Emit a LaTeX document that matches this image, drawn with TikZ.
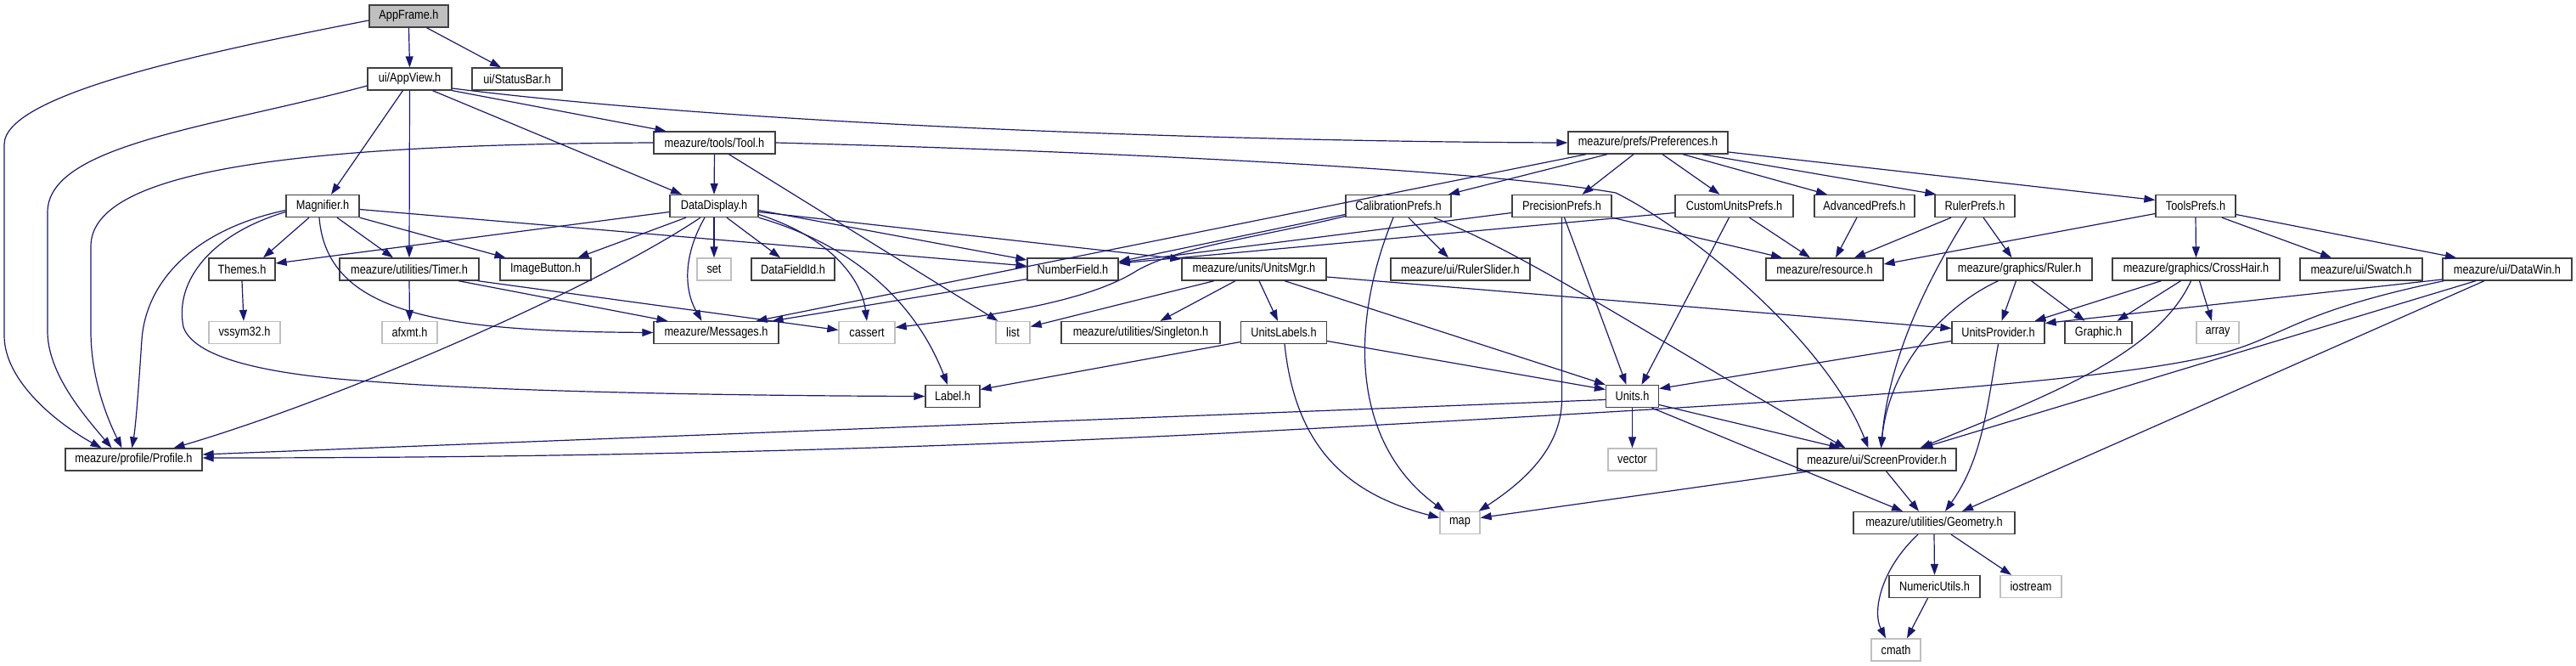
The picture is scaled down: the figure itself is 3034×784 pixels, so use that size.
\documentclass[tikz,border=0pt]{standalone}
\usepackage{fontspec}
\setmainfont{Liberation Sans}[FakeStretch=0.85]
\usetikzlibrary{arrows.meta,calc}
\definecolor{edgec}{HTML}{191970}
\definecolor{greyc}{HTML}{BFBFBF}
\definecolor{boxc}{HTML}{404040}
\begin{document}
\begin{tikzpicture}[x=1pt,y=-1pt,
  box/.style={draw=boxc, line width=1.3pt, minimum height=26pt, inner xsep=1pt, inner ysep=0pt, font=\fontsize{15}{17}\selectfont, fill=white},
  sys/.style={box, draw=greyc},
  root/.style={box, fill=greyc},
  dep/.style={draw=edgec, line width=1.2pt, -{Triangle[length=13pt,width=9pt,fill=edgec]}}]
\useasboundingbox[fill=white] (0,0) rectangle (3034,784);
% row 0-2
\node[root, minimum width=93pt] (appframe) at (481.5,19) {AppFrame.h};
\node[box, minimum width=99pt] (appview) at (482.5,93) {ui/AppView.h};
\node[box, minimum width=106pt] (statusbar) at (609,93) {ui/StatusBar.h};
\node[box, minimum width=143pt] (tool) at (841.5,168) {meazure/tools/Tool.h};
\node[box, minimum width=188pt] (prefs) at (1941,168) {meazure/prefs/Preferences.h};
% row 3
\node[box, minimum width=86pt] (magnifier) at (380,242.5) {Magnifier.h};
\node[box, minimum width=104pt] (datadisplay) at (841,242.5) {DataDisplay.h};
\node[box, minimum width=124pt] (calib) at (1647,242.5) {CalibrationPrefs.h};
\node[box, minimum width=117pt] (precision) at (1839.5,242.5) {PrecisionPrefs.h};
\node[box, minimum width=139pt] (customunits) at (2042.5,242.5) {CustomUnitsPrefs.h};
\node[box, minimum width=118pt] (advanced) at (2196,242.5) {AdvancedPrefs.h};
\node[box, minimum width=94pt] (rulerprefs) at (2326,242.5) {RulerPrefs.h};
\node[box, minimum width=94pt] (toolsprefs) at (2586,242.5) {ToolsPrefs.h};
% row 4
\node[box, minimum width=78pt] (themes) at (285,317) {Themes.h};
\node[box, minimum width=164pt] (timer) at (482,317) {meazure/utilities/Timer.h};
\node[box, minimum width=107pt] (imagebutton) at (642.5,317) {ImageButton.h};
\node[sys, minimum width=40pt] (set) at (841,317) {set};
\node[box, minimum width=98pt] (datafieldid) at (934,317) {DataFieldId.h};
\node[box, minimum width=107pt] (numberfield) at (1263.5,317) {NumberField.h};
\node[box, minimum width=170pt] (unitsmgr) at (1477,317) {meazure/units/UnitsMgr.h};
\node[box, minimum width=164pt] (rulerslider) at (1720,317) {meazure/ui/RulerSlider.h};
\node[box, minimum width=138pt] (resource) at (2149,317) {meazure/resource.h};
\node[box, minimum width=171pt] (ruler) at (2378.5,317) {meazure/graphics/Ruler.h};
\node[box, minimum width=197pt] (crosshair) at (2586.5,317) {meazure/graphics/CrossHair.h};
\node[box, minimum width=144pt] (swatch) at (2781,317) {meazure/ui/Swatch.h};
\node[box, minimum width=152pt] (datawin) at (2953,317) {meazure/ui/DataWin.h};
% row 5
\node[sys, minimum width=84pt] (vssym) at (288,391.5) {vssym32.h};
\node[sys, minimum width=65pt] (afxmt) at (482.5,391.5) {afxmt.h};
\node[box, minimum width=147pt] (messages) at (843.5,391.5) {meazure/Messages.h};
\node[sys, minimum width=66pt] (cassert) at (1021,391.5) {cassert};
\node[sys, minimum width=40pt] (list) at (1193,391.5) {list};
\node[box, minimum width=187pt] (singleton) at (1343.5,391.5) {meazure/utilities/Singleton.h};
\node[box, minimum width=101pt] (unitslabels) at (1512,391.5) {UnitsLabels.h};
\node[box, minimum width=109pt] (unitsprovider) at (2353.5,391.5) {UnitsProvider.h};
\node[box, minimum width=79pt] (graphic) at (2471.5,391.5) {Graphic.h};
\node[sys, minimum width=50pt] (array) at (2612,391.5) {array};
% row 6-10
\node[box, minimum width=64pt] (label) at (1122,466.5) {Label.h};
\node[box, minimum width=62pt] (units) at (1922.5,466.5) {Units.h};
\node[box, minimum width=161pt] (profile) at (157.5,541) {meazure/profile/Profile.h};
\node[sys, minimum width=57pt] (vector) at (1922.5,541) {vector};
\node[box, minimum width=187pt] (screenprovider) at (2210.5,541) {meazure/ui/ScreenProvider.h};
\node[sys, minimum width=47pt] (map) at (1719.5,615.5) {map};
\node[box, minimum width=190pt] (geometry) at (2278,615.5) {meazure/utilities/Geometry.h};
\node[box, minimum width=107pt] (numericutils) at (2278.5,690.5) {NumericUtils.h};
\node[sys, minimum width=72pt] (iostream) at (2392,690.5) {iostream};
\node[sys, minimum width=58pt] (cmath) at (2233,765) {cmath};

% AppFrame
\draw[dep] (appframe.south) -- (appview.north);
\draw[dep] ([xshift=21]appframe.south) -- ([xshift=-19]statusbar.north);
\draw[dep] ([yshift=-5]appframe.west) .. controls (250,60) and (5,110) .. (5,170) -- (5,395) .. controls (5,450) and (70,500) .. ([xshift=-38]profile.north);
% AppView
\draw[dep] ([yshift=-8]appview.west) .. controls (250,150) and (56,170) .. (56,250) -- (56,390) .. controls (56,440) and (100,490) .. ([xshift=-26]profile.north);
\draw[dep] ([xshift=-8]appview.south) -- ([xshift=10]magnifier.north);
\draw[dep] (appview.south) -- (timer.north);
\draw[dep] ([xshift=27]appview.south) -- ([xshift=-38]datadisplay.north);
\draw[dep] (appview.south east) -- ([xshift=-57]tool.north);
\draw[dep] ([yshift=-11]appview.east) .. controls (900,150) and (1500,167) .. (prefs.west);
% Tool
\draw[dep] (tool.south) -- (datadisplay.north);
\draw[dep] ([xshift=17]tool.south) -- ([xshift=3]list.north west);
\draw[dep] (tool.east) .. controls (1300,178) and (1750,200) .. (1903,227) .. controls (1990,270) and (2150,400) .. ([xshift=-10]screenprovider.north);
\draw[dep] (tool.west) .. controls (350,170) and (107,200) .. (107,290) -- (107,390) .. controls (107,450) and (130,500) .. ([xshift=-14]profile.north);
% Magnifier
\draw[dep] ([xshift=-16]magnifier.south) -- ([xshift=25]themes.north);
\draw[dep] ([xshift=17]magnifier.south) -- ([xshift=-19]timer.north);
\draw[dep] (magnifier.south east) -- ([xshift=-47]imagebutton.north);
\draw[dep] ([yshift=-4]magnifier.east) -- ([yshift=4]numberfield.west);
\draw[dep] ([xshift=-4]magnifier.south) .. controls (385,370) and (520,390) .. (messages.west);
\draw[dep] ([yshift=-5]magnifier.west) .. controls (230,270) and (172,330) .. (167,400) .. controls (163,460) and (160,500) .. ([xshift=-2]profile.north);
\draw[dep] ([yshift=-7]magnifier.west) .. controls (250,275) and (205,330) .. (216,385) .. controls (230,425) and (330,442) .. (436,449) .. controls (600,462) and (900,466) .. (label.west);
% DataDisplay
\draw[dep] ([yshift=-7]datadisplay.west) -- ([yshift=7]themes.east);
\draw[dep] ([xshift=-33]datadisplay.south) -- ([xshift=38]imagebutton.north);
\draw[dep] ([xshift=-16]datadisplay.south) .. controls (700,340) and (400,470) .. ([xshift=47]profile.north);
\draw[dep] (datadisplay.south) -- (set.north);
\draw[dep] ([xshift=15]datadisplay.south) -- ([xshift=-15]datafieldid.north);
\draw[dep] ([xshift=-11]datadisplay.south) .. controls (805,300) and (805,340) .. ([xshift=-17]messages.north);
\draw[dep] ([yshift=-5]datadisplay.east) -- ([yshift=11]numberfield.west);
\draw[dep] ([yshift=-7]datadisplay.east) -- ([yshift=12]unitsmgr.west);
\draw[dep] ([yshift=-10]datadisplay.east) .. controls (980,280) and (1015,330) .. (cassert.north);
\draw[dep] (datadisplay.south east) .. controls (1010,290) and (1080,360) .. ([xshift=-6]label.north);
% Timer, Themes
\draw[dep] (timer.south) -- (afxmt.north);
\draw[dep] ([xshift=58]timer.south) -- ([xshift=-57]messages.north);
\draw[dep] ([xshift=-2]timer.south east) -- ([yshift=3]cassert.west);
\draw[dep] (themes.south) -- ([xshift=-1]vssym.north);
% NumberField, UnitsMgr, UnitsLabels
\draw[dep] ([yshift=2]numberfield.south west) -- ([xshift=66]messages.north);
\draw[dep] ([xshift=-47]unitsmgr.south) -- ([yshift=7]list.east);
\draw[dep] ([xshift=-22]unitsmgr.south) -- ([xshift=23]singleton.north);
\draw[dep] ([xshift=6]unitsmgr.south) -- ([xshift=-7]unitslabels.north);
\draw[dep] ([xshift=36]unitsmgr.south) -- (units.north west);
\draw[dep] ([yshift=-9]unitsmgr.east) -- ([yshift=5]unitsprovider.west);
\draw[dep] ([yshift=-11]unitslabels.west) -- ([yshift=8]label.east);
\draw[dep] ([yshift=-10]unitslabels.east) -- ([yshift=8]units.west);
\draw[dep] ([xshift=1]unitslabels.south) .. controls (1525,520) and (1580,580) .. ([yshift=6]map.west);
% Preferences
\draw[dep] ([xshift=-48]prefs.south) -- ([xshift=59]calib.north);
\draw[dep] ([xshift=-17]prefs.south) -- ([xshift=24]precision.north);
\draw[dep] ([xshift=17]prefs.south) -- ([xshift=-17]customunits.north);
\draw[dep] ([xshift=41]prefs.south) -- ([xshift=-44]advanced.north);
\draw[dep] ([xshift=64]prefs.south) -- ([xshift=2]rulerprefs.north west);
\draw[dep] ([yshift=-11]prefs.east) -- ([yshift=7]toolsprefs.west);
\draw[dep] ([xshift=-73]prefs.south) -- ([xshift=47]messages.north);
% CalibrationPrefs
\draw[dep] ([yshift=-10]calib.west) -- ([yshift=9]numberfield.east);
\draw[dep] ([yshift=-12]calib.west) .. controls (1480,280) and (1390,290) .. (1340,318) .. controls (1290,350) and (1200,368) .. ([yshift=6]cassert.east);
\draw[dep] ([xshift=12]calib.south) -- ([xshift=-14]rulerslider.north);
\draw[dep] ([xshift=-6]calib.south) .. controls (1590,380) and (1590,520) .. ([xshift=-18]map.north);
\draw[dep] ([xshift=42]calib.south) .. controls (1800,300) and (1950,400) .. ([xshift=-37]screenprovider.north);
% PrecisionPrefs
\draw[dep] ([yshift=-8]precision.west) -- ([yshift=8]numberfield.east);
\draw[dep] (precision.south east) -- ([xshift=-50]resource.north);
\draw[dep] ([xshift=3]precision.south) -- ([xshift=-7]units.north);
\draw[dep] (precision.south) -- (1839.5,470) .. controls (1839.5,530) and (1790,570) .. ([xshift=22]map.north);
% CustomUnitsPrefs, AdvancedPrefs
\draw[dep] ([yshift=-8]customunits.west) -- ([yshift=7]numberfield.east);
\draw[dep] ([xshift=18]customunits.south) -- ([xshift=-17]resource.north);
\draw[dep] ([xshift=-6]customunits.south) -- ([xshift=11]units.north);
\draw[dep] ([xshift=-9]advanced.south) -- ([xshift=13]resource.north);
% RulerPrefs, ToolsPrefs
\draw[dep] ([xshift=-28]rulerprefs.south) -- ([xshift=35]resource.north);
\draw[dep] ([xshift=10]rulerprefs.south) -- ([xshift=-9]ruler.north);
\draw[dep] ([xshift=-10]rulerprefs.south) .. controls (2270,330) and (2225,420) .. ([xshift=5]screenprovider.north);
\draw[dep] ([yshift=-9]toolsprefs.west) -- ([yshift=6]resource.east);
\draw[dep] (toolsprefs.south) -- (crosshair.north);
\draw[dep] ([xshift=31]toolsprefs.south) -- ([xshift=-35]swatch.north);
\draw[dep] ([yshift=-10]toolsprefs.east) -- ([xshift=-60]datawin.north);
% Ruler, CrossHair, DataWin
\draw[dep] ([xshift=-4]ruler.south) -- ([xshift=4]unitsprovider.north);
\draw[dep] ([xshift=14]ruler.south) -- ([xshift=-16]graphic.north);
\draw[dep] ([xshift=-25]ruler.south) .. controls (2290,360) and (2225,430) .. ([xshift=5]screenprovider.north);
\draw[dep] ([xshift=-41]crosshair.south) -- ([xshift=43]unitsprovider.north);
\draw[dep] ([xshift=-18]crosshair.south) -- ([xshift=22]graphic.north);
\draw[dep] ([xshift=4]crosshair.south) -- ([xshift=-7]array.north);
\draw[dep] ([xshift=-6]crosshair.south) .. controls (2540,420) and (2400,470) .. ([xshift=51]screenprovider.north);
\draw[dep] ([yshift=-12]datawin.west) -- ([yshift=11]unitsprovider.east);
\draw[dep] ([xshift=2]datawin.south west) .. controls (2690,370) and (2690,400) .. (2600,420) .. controls (2450,455) and (2000,480) .. (1480,508) .. controls (1000,533) and (600,539) .. ([yshift=2]profile.east);
\draw[dep] ([xshift=-37]datawin.south) -- ([xshift=53]screenprovider.north);
\draw[dep] ([xshift=-27]datawin.south) -- ([xshift=33]geometry.north);
% UnitsProvider, Units, ScreenProvider
\draw[dep] ([yshift=-10]unitsprovider.west) -- ([yshift=9]units.east);
\draw[dep] (unitsprovider.south) .. controls (2340,480) and (2335,540) .. ([xshift=13]geometry.north);
\draw[dep] ([yshift=-4]units.west) -- ([yshift=6]profile.east);
\draw[dep] (units.south) -- (vector.north);
\draw[dep] ([yshift=-10]units.east) -- ([xshift=-43]screenprovider.north);
\draw[dep] ([xshift=23]units.south) -- ([xshift=-37]geometry.north);
\draw[dep] ([xshift=-78]screenprovider.south) -- ([yshift=6]map.east);
\draw[dep] ([xshift=11]screenprovider.south) -- ([xshift=-18]geometry.north);
% Geometry, NumericUtils
\draw[dep] (geometry.south) -- (numericutils.north);
\draw[dep] ([xshift=20]geometry.south) -- ([xshift=-23]iostream.north);
\draw[dep] ([xshift=-19]geometry.south) .. controls (2215,670) and (2205,720) .. ([xshift=-12]cmath.north);
\draw[dep] ([xshift=-8]numericutils.south) -- ([xshift=13]cmath.north);
\end{tikzpicture}
\end{document}
